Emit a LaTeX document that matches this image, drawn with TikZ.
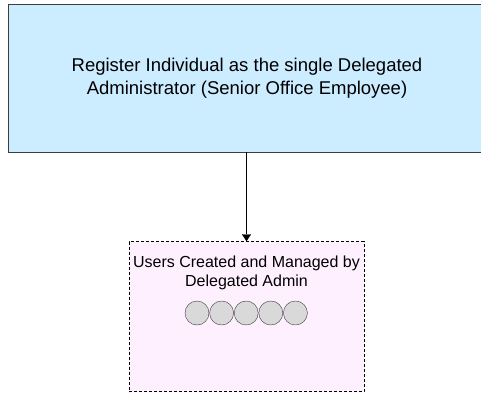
\documentclass[tikz,border=0pt]{standalone}
\usepackage{fontspec}
\setmainfont{Liberation Sans}
\definecolor{regblue}{RGB}{204, 236, 255}
\definecolor{userpink}{RGB}{255, 240, 255}
\definecolor{edgegray}{RGB}{60, 60, 60}
\definecolor{dotgray}{RGB}{217, 217, 217}
\usetikzlibrary{arrows.meta, positioning}

\begin{document}
\begin{tikzpicture}[x=1pt, y=1pt]
  \useasboundingbox (0, 0) rectangle (481, -393);
  \clip (0, 0) rectangle (481, -393);

  % Registration box
  \node[draw=edgegray, fill=regblue, minimum width=478pt, minimum height=148pt, inner sep=0pt, align=center, font=\fontsize{18.5}{23}\selectfont] (register) at (247, -78) {
    Register Individual as the single Delegated\\Administrator (Senior Office Employee)
  };

  % Users box
  \node[draw=black, dash pattern=on 3pt off 2pt, fill=userpink, minimum width=235pt, minimum height=150pt, inner sep=0pt] (users) at (246.5, -316.5) {};
  \node[align=center, font=\fontsize{16}{19}\selectfont] (userstext) at (246.5, -272.5) {
    Users Created and Managed by\\Delegated Admin
  };

  % Users
  \foreach \i in {0, ..., 4} {
    \node[circle, draw=edgegray, fill=dotgray, minimum size=24pt, inner sep=0pt] (user\i) at (197 + 24.6*\i, -313) {};
  }

  \draw[-{Triangle[width=9pt, length=7pt]}] (register.south -| users.north) -- (users.north);
\end{tikzpicture}
\end{document}
